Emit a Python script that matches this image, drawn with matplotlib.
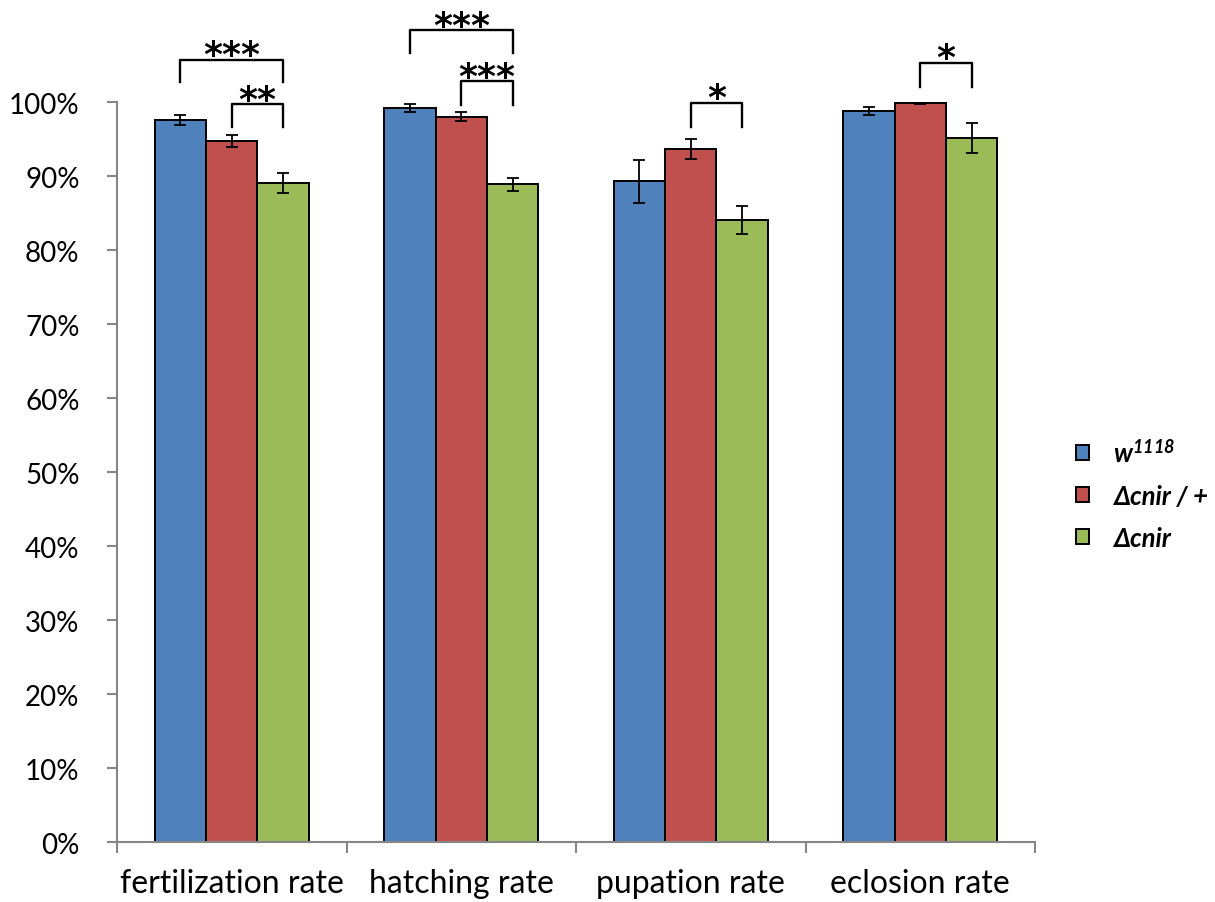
import matplotlib.pyplot as plt
import numpy as np

plt.rcParams['font.family'] = ['Lato', 'DejaVu Sans']
plt.rcParams['mathtext.fontset'] = 'custom'
plt.rcParams['mathtext.bfit'] = 'Lato:bold:italic'
plt.rcParams['mathtext.bf'] = 'Lato:bold'
plt.rcParams['mathtext.it'] = 'Lato:italic'

categories = ["fertilization rate", "hatching rate", "pupation rate", "eclosion rate"]
genotypes = [r"$\mathbfit{w}^{\mathbfit{1118}}$", "Δcnir / +", "Δcnir"]
colors = ["#4F81BD", "#C0504D", "#9BBB59"]

# mean rates (%) per genotype, one value per stage
w1118 = [97.6, 99.2, 89.3, 98.8]
cnir_het = [94.7, 98.0, 93.7, 99.9]
cnir = [89.1, 88.9, 84.1, 95.1]

# standard errors (%)
w1118_err = [0.7, 0.6, 2.9, 0.55]
cnir_het_err = [0.8, 0.6, 1.35, 0.15]
cnir_err = [1.35, 0.9, 1.9, 2.0]

# significance brackets: (stage, first genotype, second genotype, bar top, leg bottom, stars)
brackets = [
    (0, 0, 2, 105.7, 102.7, "***"),
    (0, 1, 2, 99.7, 96.6, "**"),
    (1, 0, 2, 109.7, 106.6, "***"),
    (1, 1, 2, 102.8, 99.6, "***"),
    (2, 1, 2, 99.9, 96.6, "*"),
    (3, 1, 2, 105.3, 102.0, "*"),
]

fig = plt.figure(figsize=(12.15, 9.03), dpi=100)
ax = fig.add_axes([0.0963, 0.0664, 0.7556, 0.8195])

x = np.arange(len(categories))
width = 0.2237
series = [w1118, cnir_het, cnir]
errs = [w1118_err, cnir_het_err, cnir_err]

for i, (vals, err) in enumerate(zip(series, errs)):
    ax.bar(x + (i - 1) * width, vals, width, color=colors[i],
           edgecolor="black", linewidth=1.4, label=genotypes[i], zorder=2)
    ax.errorbar(x + (i - 1) * width, vals, yerr=err, fmt="none",
                ecolor="black", elinewidth=1.3, capsize=4, capthick=1.3, zorder=3)

for stage, g1, g2, top, leg, stars in brackets:
    x1 = stage + (g1 - 1) * width
    x2 = stage + (g2 - 1) * width
    ax.plot([x1, x1, x2, x2], [leg, top, top, leg], color="black", lw=1.7,
            solid_joinstyle="round", clip_on=False, zorder=4)
    ax.text((x1 + x2) / 2, top - 1.7, stars, ha="center", va="bottom",
            fontsize=26, fontweight="bold", family="DejaVu Sans", clip_on=False)

ax.set_xlim(-0.5, 3.5)
ax.set_ylim(0, 100)
ax.set_yticks(np.arange(0, 101, 10))
ax.set_yticklabels([f"{v}%" for v in range(0, 101, 10)])
ax.set_xticks(x)
ax.set_xticklabels(categories)
ax.set_xticks(np.arange(-0.5, 4, 1), minor=True)

for side in ["top", "right"]:
    ax.spines[side].set_visible(False)
for side in ["left", "bottom"]:
    ax.spines[side].set_color("#868686")
    ax.spines[side].set_linewidth(1.5)

ax.tick_params(axis="y", length=7, width=1.5, color="#868686", labelsize=20, pad=20)
ax.tick_params(axis="x", which="major", length=0, labelsize=23, pad=19)
ax.tick_params(axis="x", which="minor", length=8, width=1.5, color="#868686")

fig.legend(loc="center left", bbox_to_anchor=(0.8856, 0.452), frameon=False,
           prop={"weight": "bold", "style": "italic", "size": 18.5},
           borderpad=0, borderaxespad=0,
           handlelength=0.5, handleheight=0.5, labelspacing=0.7, handletextpad=0.95)

fig.savefig("out.png", dpi=100)
